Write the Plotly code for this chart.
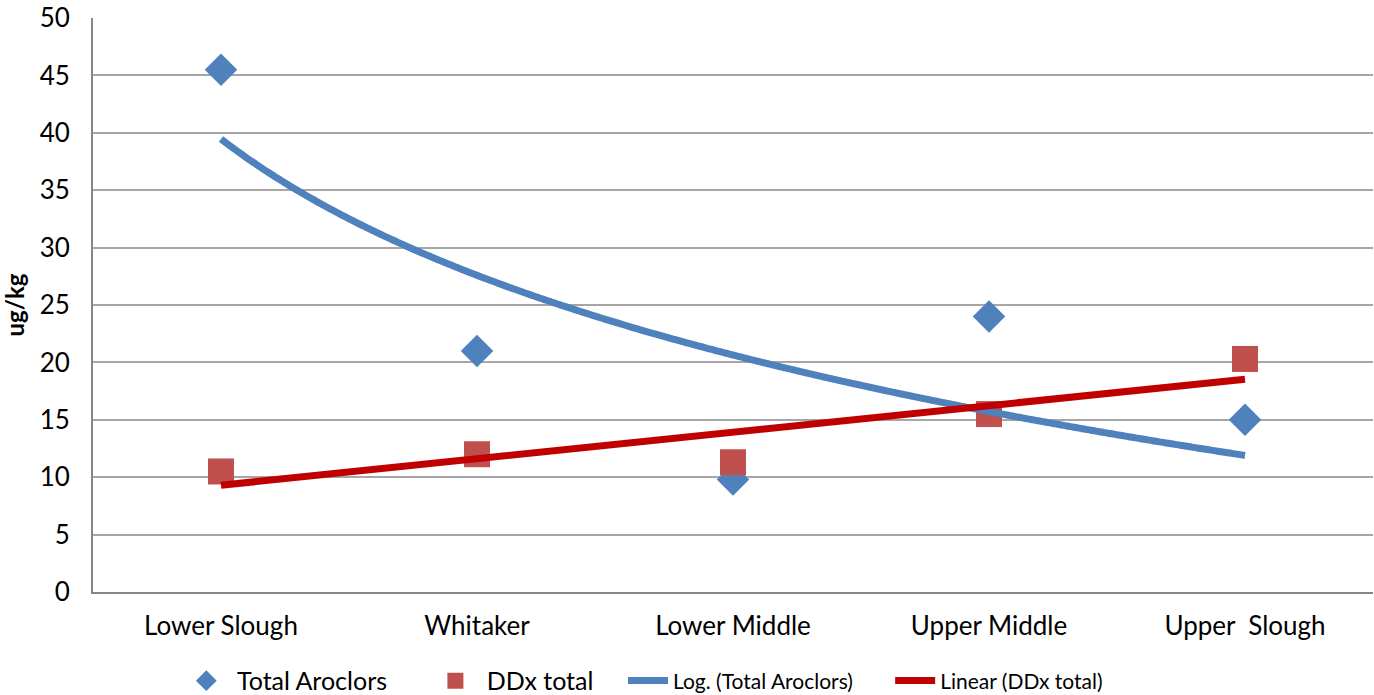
import numpy as np
import plotly.graph_objects as go

categories = ["Lower Slough", "Whitaker", "Lower Middle", "Upper Middle", "Upper  Slough"]
total_aroclors = [45.5, 21.0, 9.8, 24.0, 15.0]
ddx_total = [10.5, 12.0, 11.3, 15.5, 20.3]
y_ticks = [0, 5, 10, 15, 20, 25, 30, 35, 40, 45, 50]

xpos = np.arange(1, len(categories) + 1)

# Log trendline fitted to Total Aroclors (as in spreadsheet trendline)
a_log, b_log = np.polyfit(np.log(xpos), total_aroclors, 1)
xs = np.linspace(1, len(categories), 300)
log_fit = a_log * np.log(xs) + b_log

# Linear trendline fitted to DDx total
a_lin, b_lin = np.polyfit(xpos, ddx_total, 1)
lin_fit = a_lin * xs + b_lin

NB = "\u00a0"
font_family = "Lato, Carlito, sans-serif"

fig = go.Figure()
fig.add_trace(go.Scatter(x=xpos, y=total_aroclors, mode="markers",
                         name=NB + "Total Aroclors" + NB * 6, legend="legend",
                         marker=dict(symbol="diamond", size=25, color="#4F81BD")))
fig.add_trace(go.Scatter(x=xpos, y=ddx_total, mode="markers",
                         name=NB + "DDx total", legend="legend",
                         marker=dict(symbol="square", size=26, color="#C0504D")))
fig.add_trace(go.Scatter(x=xs, y=log_fit, mode="lines", name="Log. (Total Aroclors)" + NB * 6,
                         legend="legend2",
                         line=dict(color="#4F81BD", width=7, simplify=False, shape="spline")))
fig.add_trace(go.Scatter(x=xs, y=lin_fit, mode="lines", name="Linear (DDx total)",
                         legend="legend2", line=dict(color="#C00000", width=7)))

fig.update_layout(
    width=1374, height=695,
    margin=dict(l=93, r=1, t=18, b=103, autoexpand=False),
    paper_bgcolor="white", plot_bgcolor="white",
    font=dict(family=font_family, size=26, color="black"),
    showlegend=True,
    legend=dict(orientation="h", x=0.069, xanchor="left", y=-0.155, yanchor="middle",
                font=dict(size=25), itemwidth=40, tracegroupgap=0, bgcolor="rgba(0,0,0,0)"),
    legend2=dict(orientation="h", x=(623 - 93) / 1280, xanchor="left", y=-0.155, yanchor="middle",
                 font=dict(size=21), itemwidth=40, tracegroupgap=0, bgcolor="rgba(0,0,0,0)"),
    xaxis=dict(range=[0.5, len(categories) + 0.5], tickvals=list(xpos), ticktext=categories,
               showgrid=False, zeroline=False, showline=True, linecolor="#868686", linewidth=2,
               ticks="", tickfont=dict(size=26), ticklabelstandoff=10, automargin=False),
    yaxis=dict(range=[0, 50], tickvals=y_ticks, showgrid=True, gridcolor="#A6A6A6", gridwidth=2,
               zeroline=False, showline=True, linecolor="#868686", linewidth=2, ticks="",
               tickfont=dict(size=26), ticklabelstandoff=16, automargin=False,
               title=dict(text="<b>ug/kg</b>", font=dict(size=24), standoff=10)),
)

fig.write_html("out.html")
